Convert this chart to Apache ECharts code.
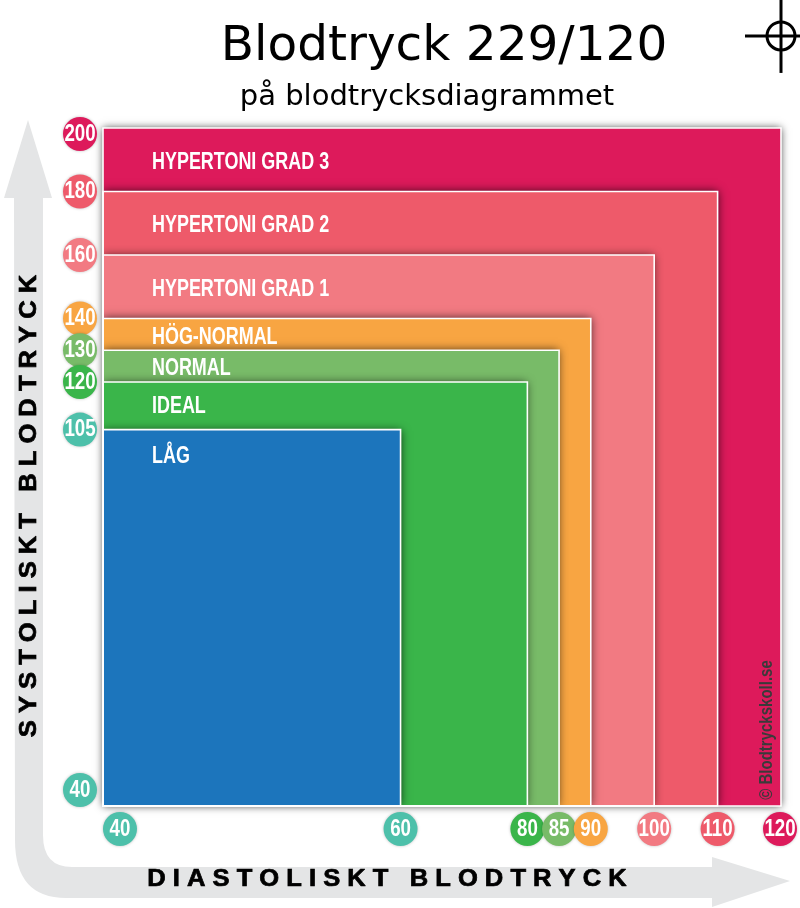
<!DOCTYPE html>
<html><head><meta charset="utf-8">
<style>html,body{margin:0;padding:0;background:#fff}#c{width:800px;height:908px}</style>
<script src="https://cdn.jsdelivr.net/npm/echarts@6/dist/echarts.min.js"></script>
</head><body><div id="c"></div>
<script>
// Data
const zoneNames = ['HYPERTONI GRAD 3','HYPERTONI GRAD 2','HYPERTONI GRAD 1','HÖG-NORMAL','NORMAL','IDEAL','LÅG'];
const zoneDiastolic = [120,110,100,90,85,80,60];
const zoneSystolic = [200,180,160,140,130,120,105];
const zoneColors = ['#DD1A5B','#EE5A6A','#F27A82','#F8A542','#78BB68','#3AB54A','#1C75BC'];
const zoneLabelDy = [35,34,35,19,18,25,27];
const sysTicks = [200,180,160,140,130,120,105,40];
const sysTickColors = ['#DD1A5B','#EE5A6A','#F27A82','#F8A542','#78BB68','#3AB54A','#4DC0AA','#4DC0AA'];
const diaTicks = [40,60,80,85,90,100,110,120];
const diaTickColors = ['#4DC0AA','#4DC0AA','#3AB54A','#78BB68','#F8A542','#F27A82','#EE5A6A','#DD1A5B'];
const reading = {systolic:229, diastolic:120};

// The reference's axes are stretched below 60 (diastolic) and 105 (systolic)
const diaPos = v => v >= 60 ? v : 60 - (60 - v) * 2.2125;
const sysPos = v => v >= 105 ? v : 105 - (105 - v) * 1.746;
const FONT = '"Liberation Sans",sans-serif';
const ARROW = 'M28 120 L52 198 L43 198 L43 835 Q43 867 72 867 L712 867 L712 857 L790 881 L712 907 L712 898 L66 898 Q15 898 15 840 L14 198 L4 198 Z';

const chart = echarts.init(document.getElementById('c'), null, {renderer:'canvas', width:800, height:908});

const arrowSeries = {
  type:'custom', coordinateSystem:'cartesian2d', clip:false, silent:true, z:1,
  data:[[0,0]],
  renderItem(){
    return {type:'path', shape:{pathData:ARROW, layout:'cover', x:4, y:120, width:786, height:787}, style:{fill:'#E4E5E6'}};
  }
};
const zoneData = zoneNames.map((n,i)=>[diaPos(zoneDiastolic[i]), sysPos(zoneSystolic[i]), i]);
function zoneRect(p, api, style){
  const tr = api.coord([api.value(0), api.value(1)]);
  const g = p.coordSys;
  return {type:'rect', shape:{x:g.x, y:tr[1], width:tr[0]-g.x, height:g.y+g.height-tr[1]}, style};
}
const outerShadowSeries = {
  type:'custom', coordinateSystem:'cartesian2d', clip:false, silent:true, z:2,
  data: zoneData.slice(0,1), encode:{x:0,y:1},
  renderItem:(p,api)=>zoneRect(p,api,{fill:'#fff', shadowBlur:8, shadowColor:'rgba(0,0,0,0.75)'})
};
const zoneSeries = {
  type:'custom', coordinateSystem:'cartesian2d', clip:true, silent:true, z:2,
  data: zoneData, encode:{x:0,y:1},
  renderItem:(p,api)=>zoneRect(p,api,{fill:zoneColors[api.value(2)], shadowBlur:9, shadowColor:'rgba(0,0,0,0.7)'})
};
const outlineSeries = {
  type:'custom', coordinateSystem:'cartesian2d', clip:false, silent:true, z:3,
  data: zoneData, encode:{x:0,y:1},
  renderItem:(p,api)=>zoneRect(p,api,{fill:null, stroke:'#fff', lineWidth:1.6})
};
const labelSeries = {
  type:'custom', coordinateSystem:'cartesian2d', clip:false, silent:true, z:3,
  data: zoneNames.map((n,i)=>[sysPos(zoneSystolic[i]), i]),
  encode:{y:0},
  renderItem(p, api){
    const i = api.value(1);
    const y = api.coord([0, api.value(0)])[1];
    return {type:'text', x:p.coordSys.x+49, y:y+zoneLabelDy[i], scaleX:0.78,
      style:{text:zoneNames[i], fill:'#fff', font:'bold 23px '+FONT, textAlign:'left', textVerticalAlign:'middle'}};
  }
};
function bubble(cx, cy, color, text){
  return {type:'group', children:[
    {type:'circle', shape:{cx, cy, r:17}, style:{fill:color, shadowBlur:3, shadowColor:'rgba(0,0,0,0.25)'}},
    {type:'text', x:cx, y:cy, scaleX:0.78, style:{text:String(text), fill:'#fff', font:'bold 24px '+FONT, textAlign:'center', textVerticalAlign:'middle'}}
  ]};
}
const sysTickSeries = {
  type:'custom', coordinateSystem:'cartesian2d', clip:false, silent:true, z:4,
  data: sysTicks.map((v,i)=>[sysPos(v), i]),
  encode:{y:0},
  renderItem(p, api){
    const i = api.value(1);
    const y = api.coord([0, api.value(0)])[1];
    return bubble(p.coordSys.x-23, Math.max(y, p.coordSys.y+6), sysTickColors[i], sysTicks[i]);
  }
};
const diaTickSeries = {
  type:'custom', coordinateSystem:'cartesian2d', clip:false, silent:true, z:4,
  data: diaTicks.map((v,i)=>[diaPos(v), i]),
  encode:{x:0},
  renderItem(p, api){
    const i = api.value(1);
    const x = api.coord([api.value(0), 0])[0];
    return bubble(Math.min(x, p.coordSys.x+p.coordSys.width-1), p.coordSys.y+p.coordSys.height+23, diaTickColors[i], diaTicks[i]);
  }
};
const readingSeries = {
  type:'custom', coordinateSystem:'cartesian2d', clip:false, silent:true, z:5,
  data:[[reading.diastolic, reading.systolic]],
  encode:{x:0,y:1},
  renderItem(p, api){
    const c = api.coord([api.value(0), api.value(1)]);
    const st = {stroke:'#000', lineWidth:3, fill:null};
    return {type:'group', children:[
      {type:'circle', shape:{cx:c[0], cy:c[1], r:14}, style:st},
      {type:'line', shape:{x1:c[0]-36, y1:c[1], x2:c[0]+19, y2:c[1]}, style:st},
      {type:'line', shape:{x1:c[0], y1:c[1]-36, x2:c[0], y2:c[1]+37}, style:st}
    ]};
  }
};
const heavy = {stroke:'#000', lineWidth:0.7};

chart.setOption({
  animation:false,
  backgroundColor:'#fff',
  title:[
    {text:'Blodtryck 229/120', left:439, top:18, textAlign:'center',
     textStyle:{fontFamily:'DejaVu Sans', fontWeight:'normal', fontSize:48.5, color:'#000'}},
    {text:'på blodtrycksdiagrammet', left:422, top:78, textAlign:'center',
     textStyle:{fontFamily:'DejaVu Sans', fontWeight:'normal', fontSize:29, color:'#000'}}
  ],
  grid:{left:103, top:128, width:678, height:678, containLabel:false},
  xAxis:{type:'value', min:13.07, max:120, show:false},
  yAxis:{type:'value', min:-13.55, max:200, show:false},
  graphic:[
    {type:'text', z:10, silent:true, x:30, y:506, rotation:Math.PI/2, scaleX:1.11,
     style:{text:'S Y S T O L I S K T   B L O D T R Y C K', fill:'#000', font:'bold 23px '+FONT, textAlign:'center', textVerticalAlign:'middle', ...heavy}},
    {type:'text', z:10, silent:true, x:387, y:880, scaleX:1.11,
     style:{text:'D I A S T O L I S K T   B L O D T R Y C K', fill:'#000', font:'bold 23px '+FONT, textAlign:'center', textVerticalAlign:'middle', ...heavy}},
    {type:'text', z:10, silent:true, x:767, y:730, rotation:Math.PI/2, scaleX:0.79,
     style:{text:'© Blodtryckskoll.se', fill:'#3a3a3a', font:'bold 19px '+FONT, textAlign:'center', textVerticalAlign:'middle'}}
  ],
  series:[arrowSeries, outerShadowSeries, zoneSeries, outlineSeries, labelSeries, sysTickSeries, diaTickSeries, readingSeries]
});
</script></body></html>
